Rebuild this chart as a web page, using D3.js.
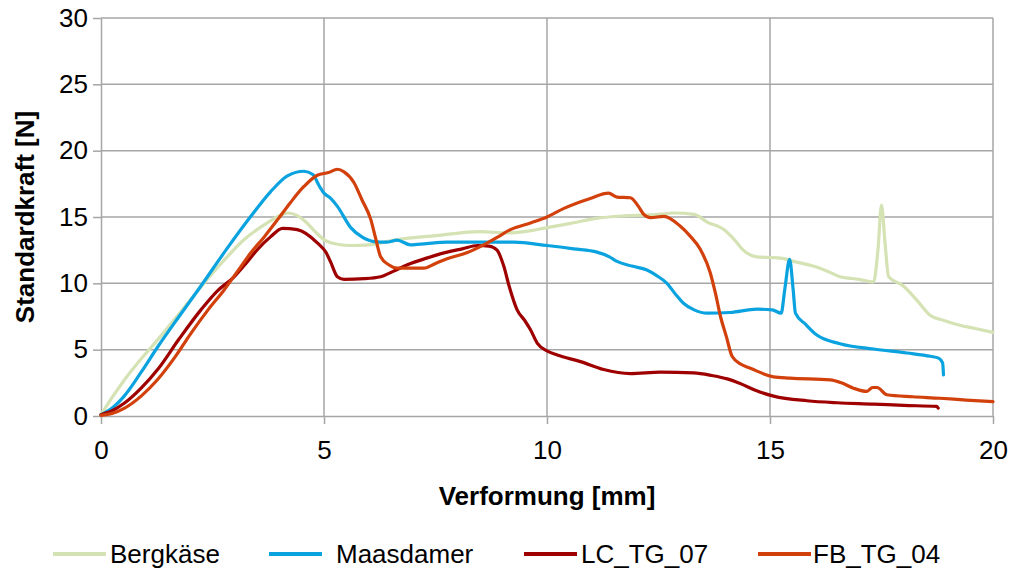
<!DOCTYPE html>
<html>
<head>
<meta charset="utf-8">
<script src="https://cdn.jsdelivr.net/npm/d3@7"></script>
<style>
  body { margin: 0; background: #fff; }
  svg { display: block; font-family: "Liberation Sans", Arial, sans-serif; }
</style>
</head>
<body>
<div class="force-chart"></div>
<script>
'use strict';

// curves: [Verformung mm, Standardkraft N]
const bergkaese = [
    [0, 0.1], [0.25, 1.4], [0.52, 2.7], [0.9, 4.3], [1.27, 5.74], [1.8, 7.9], [2.31, 10.0],
    [2.75, 11.7], [3.21, 13.3], [3.7, 14.5], [4.0, 15.1], [4.2, 15.3], [4.4, 15.1], [4.6, 14.6],
    [4.8, 13.9], [5.0, 13.3], [5.3, 12.95], [5.6, 12.85], [6.0, 12.9], [6.64, 13.3], [7.5, 13.6],
    [8.5, 13.9], [9.1, 13.8], [9.5, 13.9], [10.0, 14.2], [10.5, 14.5], [11.1, 14.9], [11.8, 15.1],
    [12.5, 15.2], [12.83, 15.3], [13.3, 15.2], [13.6, 14.6], [13.95, 14.1], [14.2, 13.3],
    [14.4, 12.5], [14.7, 12.0], [15.23, 11.9], [15.6, 11.6], [15.97, 11.3], [16.3, 10.9],
    [16.57, 10.5], [17.0, 10.3], [17.32, 10.1], [17.42, 12.5], [17.5, 15.9], [17.58, 13.0],
    [17.66, 10.5], [17.99, 9.8], [18.3, 8.7], [18.59, 7.6], [18.9, 7.2], [19.19, 6.9],
    [19.6, 6.6], [20.0, 6.3]
];

const maasdamer = [
    [0, 0.1], [0.25, 0.6], [0.52, 1.5], [0.9, 3.3], [1.27, 5.2], [1.75, 7.5], [2.24, 9.8],
    [2.8, 12.5], [3.36, 15.05], [3.8, 16.9], [4.18, 18.1], [4.55, 18.45], [4.75, 18.2],
    [4.9, 17.3], [5.0, 16.8], [5.15, 16.4], [5.3, 15.8], [5.6, 14.2], [5.85, 13.5], [6.12, 13.15],
    [6.4, 13.1], [6.64, 13.25], [6.94, 12.9], [7.3, 13.0], [7.76, 13.1], [8.5, 13.1], [9.26, 13.1],
    [10.0, 12.85], [10.6, 12.6], [11.12, 12.35], [11.4, 12.0], [11.57, 11.65], [11.9, 11.3],
    [12.24, 11.0], [12.45, 10.6], [12.69, 10.0], [12.9, 9.1], [13.06, 8.5], [13.3, 8.0],
    [13.59, 7.75], [14.1, 7.8], [14.71, 8.05], [15.05, 8.0], [15.25, 7.75], [15.33, 9.5],
    [15.44, 11.8], [15.52, 9.5], [15.57, 7.75], [15.8, 6.9], [16.05, 6.1], [16.57, 5.45],
    [17.32, 5.05], [18.07, 4.75], [18.6, 4.5], [18.78, 4.36], [18.87, 4.0], [18.89, 3.1]
];

const lcTg07 = [
    [0, 0.1], [0.25, 0.4], [0.52, 0.96], [0.9, 2.1], [1.27, 3.5], [1.75, 5.8], [2.24, 8.0],
    [2.6, 9.4], [2.99, 10.5], [3.25, 11.5], [3.51, 12.55], [3.8, 13.5], [4.07, 14.15], [4.4, 14.05],
    [4.85, 13.05], [5.05, 12.3], [5.15, 11.6], [5.3, 10.5], [5.45, 10.3], [5.9, 10.35],
    [6.27, 10.5], [6.55, 10.9], [6.87, 11.4], [7.3, 11.9], [7.76, 12.35], [8.1, 12.6],
    [8.44, 12.85], [8.7, 12.8], [8.88, 12.5], [9.03, 11.3], [9.15, 9.8], [9.33, 8.0], [9.5, 7.2],
    [9.63, 6.5], [9.78, 5.5], [10.0, 4.9], [10.23, 4.6], [10.75, 4.1], [11.27, 3.5], [11.87, 3.2],
    [12.54, 3.3], [13.29, 3.25], [13.7, 3.05], [14.04, 2.8], [14.33, 2.45], [14.7, 1.9],
    [15.08, 1.5], [15.83, 1.15], [16.5, 1.0], [17.32, 0.9], [18.0, 0.8], [18.74, 0.72], [18.77, 0.6]
];

const fbTg04 = [
    [0, 0.05], [0.25, 0.2], [0.52, 0.58], [0.9, 1.5], [1.27, 2.75], [1.65, 4.4], [2.02, 6.25],
    [2.4, 8.0], [2.76, 9.5], [3.06, 10.9], [3.36, 12.3], [3.66, 13.5], [3.96, 14.8], [4.25, 16.1],
    [4.55, 17.3], [4.85, 18.15], [5.1, 18.35], [5.3, 18.6], [5.45, 18.4], [5.67, 17.6],
    [5.85, 16.3], [6.05, 14.8], [6.15, 13.5], [6.27, 12.0], [6.45, 11.4], [6.64, 11.15],
    [7.24, 11.15], [7.5, 11.5], [7.76, 11.85], [8.2, 12.3], [8.58, 12.9], [8.9, 13.5],
    [9.18, 14.05], [9.63, 14.55], [10.0, 15.0], [10.38, 15.65], [10.97, 16.4], [11.38, 16.8],
    [11.57, 16.5], [11.87, 16.45], [12.05, 15.8], [12.17, 15.2], [12.32, 14.95], [12.62, 15.05],
    [12.99, 14.3], [13.2, 13.6], [13.44, 12.55], [13.66, 10.8], [13.78, 9.2], [13.89, 7.5],
    [14.02, 6.0], [14.15, 4.5], [14.35, 3.9], [14.56, 3.6], [15.08, 2.95], [15.45, 2.85],
    [16.35, 2.72], [16.6, 2.5], [16.87, 2.1], [17.17, 1.85], [17.3, 2.15], [17.4, 2.15],
    [17.62, 1.6], [18.2, 1.45], [18.81, 1.34], [19.4, 1.2], [20.0, 1.08]
];

const seriesNames = ['Bergkäse', 'Maasdamer', 'LC_TG_07', 'FB_TG_04'];
const seriesValues = [bergkaese, maasdamer, lcTg07, fbTg04];
const xTicks = [0, 5, 10, 15, 20];
const yTicks = [0, 5, 10, 15, 20, 25, 30];

const colors = ['#d4e2b4', '#0aa3e0', '#9e0000', '#d2400c'];
const legendLineX = [53, 269, 524, 758];
const legendTextX = [110, 336, 581, 813];

const width = 1011;
const height = 570;
const margin = {top: 18, right: 18, bottom: 154, left: 101};

const svg = d3.select('.force-chart')
    .append('svg')
    .attr('width', width)
    .attr('height', height);

const x = d3.scaleLinear().domain([0, 20]).range([margin.left, width - margin.right]);
const y = d3.scaleLinear().domain([0, 30]).range([height - margin.bottom, margin.top]);

const gridColor = '#a6a6a6';

// grid
svg.append('g')
    .selectAll('line')
    .data(yTicks.slice(1))
    .enter().append('line')
    .attr('x1', x(0)).attr('x2', x(20))
    .attr('y1', (d) => y(d)).attr('y2', (d) => y(d))
    .attr('stroke', gridColor).attr('stroke-width', 1.5);

svg.append('g')
    .selectAll('line')
    .data(xTicks.slice(1))
    .enter().append('line')
    .attr('x1', (d) => x(d)).attr('x2', (d) => x(d))
    .attr('y1', y(0)).attr('y2', y(30))
    .attr('stroke', gridColor).attr('stroke-width', 1.5);

// axes
const xAxis = svg.append('g')
    .attr('transform', 'translate(0,' + y(0) + ')')
    .call(d3.axisBottom(x).tickValues(xTicks).tickSize(8).tickPadding(17).tickSizeOuter(0));

const yAxis = svg.append('g')
    .attr('transform', 'translate(' + x(0) + ',0)')
    .call(d3.axisLeft(y).tickValues(yTicks).tickSize(8).tickPadding(5).tickSizeOuter(0));

[xAxis, yAxis].forEach((ax) => {
    ax.select('.domain').attr('stroke', gridColor).attr('stroke-width', 1.5);
    ax.selectAll('.tick line').attr('stroke', gridColor).attr('stroke-width', 1.5);
    ax.selectAll('.tick text')
        .attr('fill', '#000')
        .style('font-size', '26px')
        .style('font-family', '"Liberation Sans", Arial, sans-serif');
});

// curves
const line = d3.line()
    .x((d) => x(d[0]))
    .y((d) => y(d[1]))
    .curve(d3.curveMonotoneX);

svg.append('g')
    .selectAll('path')
    .data(seriesValues)
    .enter().append('path')
    .attr('d', line)
    .attr('fill', 'none')
    .attr('stroke', (d, i) => colors[i])
    .attr('stroke-width', 3.2)
    .attr('stroke-linejoin', 'round')
    .attr('stroke-linecap', 'round');

// axis titles
svg.append('text')
    .attr('x', x(10))
    .attr('y', 505)
    .attr('text-anchor', 'middle')
    .style('font-size', '26px')
    .style('font-weight', 'bold')
    .text('Verformung [mm]');

svg.append('text')
    .attr('transform', 'translate(34,' + y(15) + ') rotate(-90)')
    .attr('text-anchor', 'middle')
    .style('font-size', '26px')
    .style('font-weight', 'bold')
    .text('Standardkraft [N]');

// legend
const legend = svg.append('g')
    .selectAll('g')
    .data(seriesNames)
    .enter().append('g');

legend.append('line')
    .attr('x1', (d, i) => legendLineX[i])
    .attr('x2', (d, i) => legendLineX[i] + 53)
    .attr('y1', 554).attr('y2', 554)
    .attr('stroke', (d, i) => colors[i])
    .attr('stroke-width', 4);

legend.append('text')
    .attr('x', (d, i) => legendTextX[i])
    .attr('y', 563)
    .style('font-size', '26px')
    .text((d) => d);
</script>
</body>
</html>
